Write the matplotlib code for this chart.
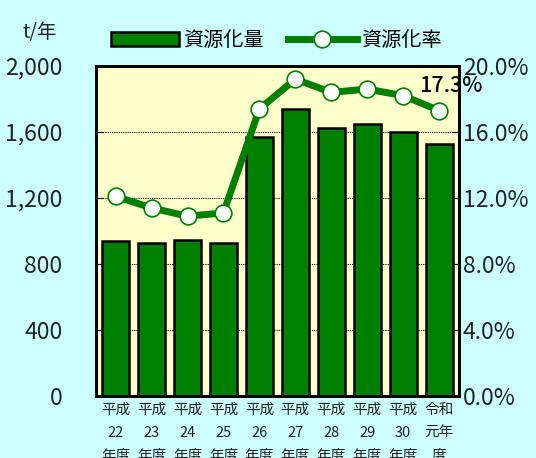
import matplotlib
matplotlib.use("Agg")
import matplotlib.pyplot as plt
from matplotlib.ticker import FuncFormatter

plt.rcParams['font.family'] = ['Noto Sans CJK JP', 'DejaVu Sans']

# データ
years = ['平成\n22\n年度', '平成\n23\n年度', '平成\n24\n年度', '平成\n25\n年度', '平成\n26\n年度',
         '平成\n27\n年度', '平成\n28\n年度', '平成\n29\n年度', '平成\n30\n年度', '令和\n元年\n度']
amount = [939, 927, 945, 927, 1572, 1740, 1622, 1647, 1600, 1528]
rate = [12.1, 11.4, 10.9, 11.1, 17.4, 19.2, 18.4, 18.6, 18.2, 17.3]

bg = '#ccffff'
green = '#008000'

fig = plt.figure(figsize=(5.36, 4.58), dpi=100, facecolor=bg)
ax = fig.add_axes([0.179, 0.135, 0.677, 0.721])
ax.set_facecolor('#ffffcc')
x = range(len(years))

bars = ax.bar(x, amount, width=0.75, color=green, edgecolor='black', linewidth=1.8,
              label='資源化量', zorder=3)
ax.set_ylim(0, 2000)
ax.set_yticks(range(0, 2001, 400))
ax.yaxis.set_major_formatter(FuncFormatter(lambda v, p: f'{int(v):,}'))
ax.set_xlim(-0.55, len(years) - 0.45)
ax.set_xticks(list(x))
ax.set_xticklabels(years, fontsize=10.5, linespacing=1.8, color='#222222')
ax.tick_params(axis='x', length=0, pad=5)
ax.tick_params(axis='y', direction='in', length=5, labelsize=16.5, pad=24, labelcolor='#222222')
ax.grid(axis='y', color='black', linestyle=(0, (1, 1)), linewidth=0.8, zorder=1)
for s in ax.spines.values():
    s.set_linewidth(2)

ax2 = ax.twinx()
line, = ax2.plot(x, rate, color=green, linewidth=5, marker='o', markersize=12,
                 markerfacecolor='white', markeredgecolor=green, markeredgewidth=1.2,
                 label='資源化率', zorder=4)
ax2.set_ylim(0, 20)
ax2.set_yticks(range(0, 21, 4))
ax2.yaxis.set_major_formatter(FuncFormatter(lambda v, p: f'{v:.1f}%'))
ax2.tick_params(axis='y', direction='in', length=5, labelsize=16.5, pad=3, labelcolor='#222222')
for s in ax2.spines.values():
    s.set_linewidth(2)

ax2.annotate(f'{rate[-1]}%', (x[-1], rate[-1]), xytext=(-14, 10), textcoords='offset points',
             fontsize=15.5, fontweight='medium', color='black', ha='left', va='bottom', zorder=5)

fig.text(0.075, 0.93, 't/年', fontsize=14, ha='center', va='center', color='#222222')
fig.legend(handles=[bars, line], loc='center', bbox_to_anchor=(0.515, 0.912), ncol=2,
           frameon=False, fontsize=14.5, handlelength=3.4, columnspacing=1.2, handletextpad=0.2)

fig.savefig('out.png', dpi=100, facecolor=bg)
